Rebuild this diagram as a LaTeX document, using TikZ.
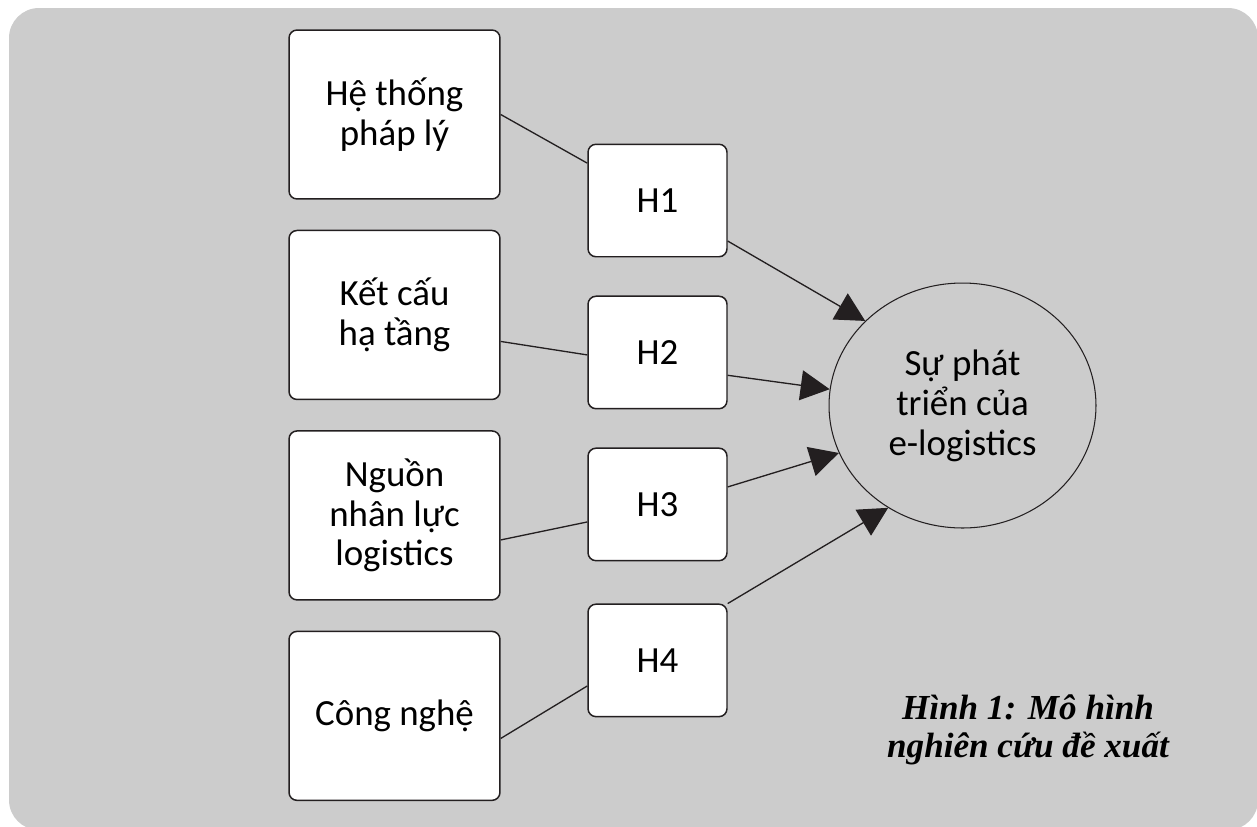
\documentclass[tikz,border=0pt]{standalone}
\usepackage{fontspec}
\setmainfont{Carlito}
\newfontfamily\capfont{Liberation Serif}
\usepackage{tikz}
\usetikzlibrary{positioning,calc,arrows.meta,shapes}
\definecolor{bggray}{HTML}{CCCCCC}
\definecolor{ink}{HTML}{231F20}
\tikzset{%
  link/.style = {
    line width = 0.75pt,
    draw = ink,
  },
  arrow/.style = {
    -{Triangle[length=0.58cm,width=0.6cm]},
    line width = 0.75pt,
    draw = ink,
    fill = ink,
  },
  fbox/.style = {
    line width = 0.85pt,
    rounded corners = 0.16cm,
    fill = white,
    draw = ink,
    align = center,
    minimum width = 4.22cm,
    minimum height = 3.38cm,
    font = \fontsize{21}{22.5}\selectfont,
  },
  hbox/.style = {
    line width = 0.85pt,
    rounded corners = 0.16cm,
    fill = white,
    draw = ink,
    align = center,
    minimum width = 2.78cm,
    minimum height = 2.25cm,
    font = \fontsize{21}{22.5}\selectfont,
  },
  goal/.style = {
    ellipse,
    draw = ink,
    line width = 0.6pt,
    inner sep = 0pt,
    align = center,
    minimum width = 5.34cm,
    minimum height = 4.9cm,
    font = \fontsize{21}{22.8}\selectfont,
  },
  caption/.style = {
    align = center,
    font = \capfont\bfseries\itshape\fontsize{20}{21.6}\selectfont,
  },
}

\begin{document}
\begin{tikzpicture}[x=0.02cm, y=-0.02cm]
\useasboundingbox (0,0) rectangle (1257,826);
\begin{scope}
\clip (0,0) rectangle (1257,826);
\fill[bggray, rounded corners=0.6cm] (9,8) rectangle (1258,830);
\end{scope}

\node(l1) [fbox] at (394.5,114.5)  {Hệ thống\\pháp lý};
\node(l2) [fbox, below = 0.6cm of l1] {Kết cấu\\hạ tầng};
\node(l3) [fbox, below = 0.6cm of l2] {Nguồn\\nhân lực\\logistics};
\node(l4) [fbox, below = 0.6cm of l3] {Công nghệ};
\node(h1) [hbox] at (657.5,200.5)   {H1};
\node(h2) [hbox, below = 0.76cm of h1] {H2};
\node(h3) [hbox, below = 0.76cm of h2] {H3};
\node(h4) [hbox, below = 0.84cm of h3] {H4};
\node(e)  [goal] at (962.5,405.5)   {Sự phát\\triển của\\e-logistics};
\node(cap) [caption] at (1028,730)  {Hình 1: Mô hình\\nghiên cứu đề xuất};

\draw[link]  (l1.east) -- (h1.152);
\draw[link]  (l2.-14)  -- (h2.182);
\draw[link]  (l3.-13)  -- (h3.194);
\draw[link]  (l4.-12)  -- (h4.200);
\draw[arrow] (h1.-30)  -- (e.139);
\draw[arrow] (h2.-18)  -- (e.173);
\draw[arrow] (h3.14)   -- (e.201);
\draw[arrow] (h4.39)   -- (e.234);
\end{tikzpicture}
\end{document}
